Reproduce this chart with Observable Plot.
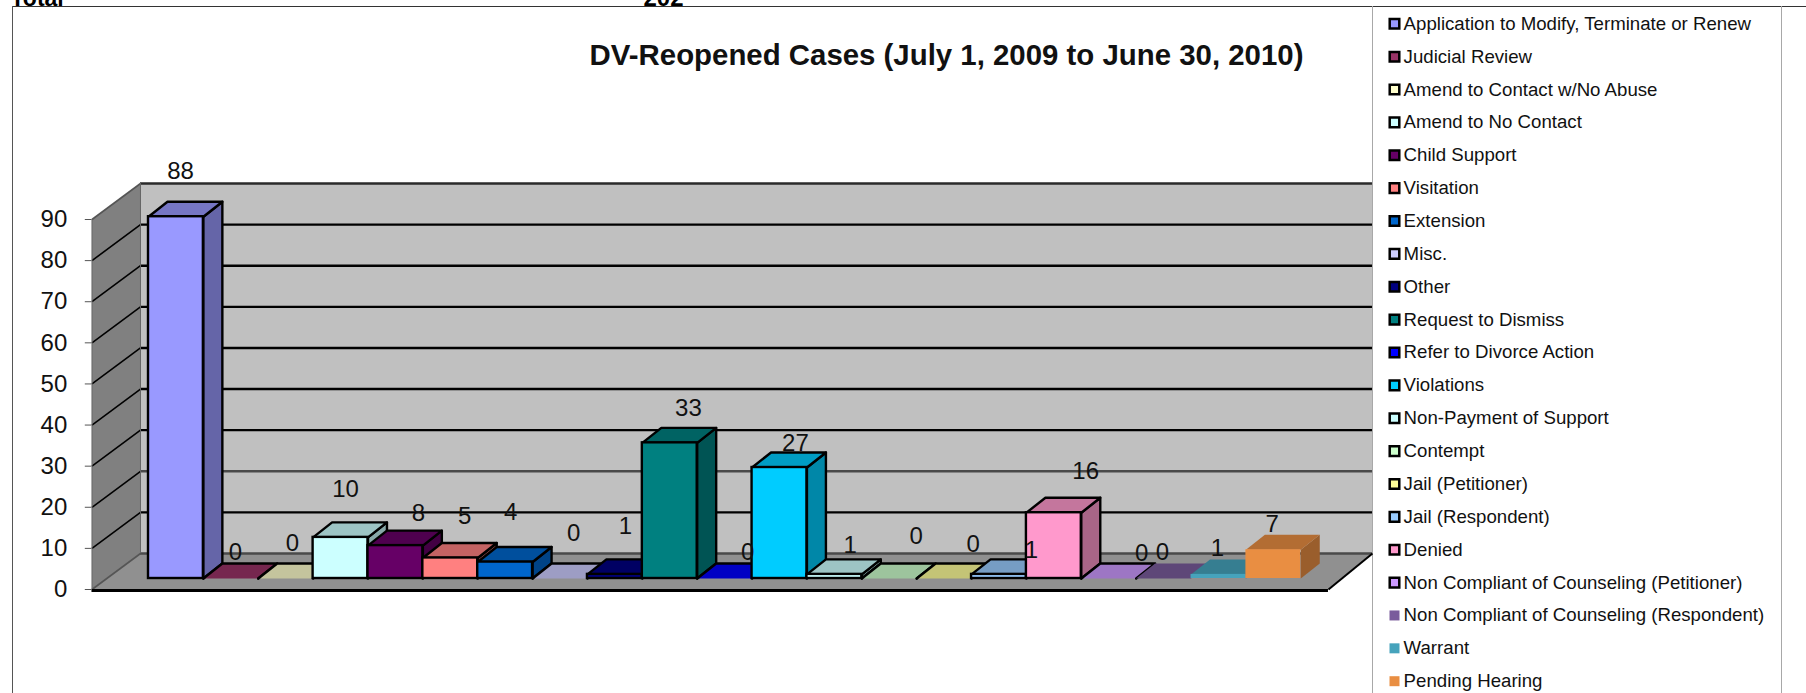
<!DOCTYPE html>
<html>
<head>
<meta charset="utf-8">
<script src="https://cdn.jsdelivr.net/npm/d3@7"></script>
<script src="https://cdn.jsdelivr.net/npm/@observablehq/plot@0.6"></script>
<style>
  html, body { margin: 0; padding: 0; background: #fff; overflow: hidden; }
  #chart { position: relative; width: 1806px; height: 693px; }
  #chart svg { position: absolute; left: 0; top: 0; }
  .ln { position: absolute; }
</style>
</head>
<body>
<div id="chart">
  <div class="ln" style="left:12px;top:6px;width:1794px;height:1px;background:#333"></div>
  <div class="ln" style="left:12px;top:6px;width:1px;height:687px;background:#555"></div>
  <div class="ln" style="left:1371.5px;top:6px;width:1.5px;height:687px;background:#a8a8a8"></div>
  <div class="ln" style="left:1780.5px;top:6px;width:1.5px;height:687px;background:#a8a8a8"></div>
</div>
<script>
const title = "DV-Reopened Cases (July 1, 2009 to June 30, 2010)";
const categories = [
  "Application to Modify, Terminate or Renew", "Judicial Review", "Amend to Contact w/No Abuse",
  "Amend to No Contact", "Child Support", "Visitation", "Extension", "Misc.", "Other",
  "Request to Dismiss", "Refer to Divorce Action", "Violations", "Non-Payment of Support",
  "Contempt", "Jail (Petitioner)", "Jail (Respondent)", "Denied",
  "Non Compliant of Counseling (Petitioner)", "Non Compliant of Counseling (Respondent)",
  "Warrant", "Pending Hearing"
];
const values = [88, 0, 0, 10, 8, 5, 4, 0, 1, 33, 0, 27, 1, 0, 0, 1, 16, 0, 0, 1, 7];
const colors = [
  "#9999FF", "#993366", "#FFFFCC", "#CCFFFF", "#660066", "#FF8080", "#0066CC", "#CCCCFF", "#000080",
  "#008080", "#0000FF", "#00CCFF", "#CCFFFF", "#CCFFCC", "#FFFF99", "#99CCFF", "#FF99CC",
  "#CC99FF", "#7A5C9C", "#46A3BC", "#E98E42"
];
const yTicks = [0, 10, 20, 30, 40, 50, 60, 70, 80, 90];
// hand-placed data labels, in chart units (category index, value)
const labelX = [0.583, 1.586, 2.624, 3.59, 4.92, 5.76, 6.60, 7.75, 8.69, 9.84, 10.92, 11.79, 12.79, 13.99, 15.03, 16.09, 17.08, 18.10, 18.48, 19.48, 20.48];
const labelY = [101.7, 9.0, 11.2, 24.3, 18.5, 17.8, 18.7, 13.6, 15.3, 44.0, 9.0, 35.5, 10.7, 12.9, 10.9, 9.5, 28.7, 8.8, 9.0, 10.0, 15.8];
const outlined = categories.map((c, i) => i < 18);

// 3-D layout, in chart units
const barDepthX = 0.346, barDepthY = 3.65, barLift = -11;
const wallX = -1.03, wallDepthX = 0.884, wallDepthY = 8.757;
const floorFrontRight = 21.505, floorBackRight = 22.307;

const shade = (hex, k) => { const c = d3.rgb(hex); return d3.rgb(c.r * k, c.g * k, c.b * k).formatHex(); };
const rows = categories.map((name, i) => ({ name, i, value: values[i], color: colors[i], stroke: outlined[i] ? "black" : "none" }));

const poly = (id, fill, stroke, pts) => pts.map(([x, y]) => ({ id, fill, stroke, x, y }));
const side = rows.filter(d => d.value > 0).flatMap(d => poly("s" + d.i, shade(d.color, 0.66), d.stroke, [
  [d.i + 1, 0], [d.i + 1 + barDepthX, barDepthY], [d.i + 1 + barDepthX, d.value + barDepthY], [d.i + 1, d.value], [d.i + 1, 0]
]));
const top_ = rows.flatMap(d => {
  const open = [[d.i, d.value], [d.i + barDepthX, d.value + barDepthY], [d.i + 1 + barDepthX, d.value + barDepthY], [d.i + 1, d.value]];
  return poly("t" + d.i, shade(d.color, 0.77), d.stroke, d.value > 0 ? [...open, open[0]] : open);
});

const xw = wallX + wallDepthX;
const sideWall = poly("wall", "#808080", "none", [[wallX, 0], [wallX, 90], [xw, 90 + wallDepthY], [xw, wallDepthY]]);
const floor = poly("floor", "#909090", "none", [[wallX, 0], [xw, wallDepthY], [floorBackRight, wallDepthY], [floorFrontRight, 0]]);

const legendY = i => 23.3 + i * 32.87;
const legendMarks = rows.flatMap((d, i) => [
  Plot.dot([d.name], {
    frameAnchor: "top-left", dx: 1302.5, dy: legendY(i), symbol: "square",
    r: outlined[i] ? 5.4 : 5.64, fill: d.color, stroke: outlined[i] ? "black" : "none", strokeWidth: 2.5
  }),
  Plot.text([d.name], {
    frameAnchor: "top-left", dx: 1311.6, dy: legendY(i), textAnchor: "start", lineAnchor: "middle",
    fontSize: 18.65, fill: "#111"
  })
]);

const polyOpts = { x: "x", y: "y", z: "id", fill: "fill", stroke: "stroke" };

const chart = Plot.plot({
  width: 1806, height: 693,
  marginLeft: 91.5, marginRight: 0, marginTop: 0, marginBottom: 0,
  style: { background: "transparent", fontFamily: "'Liberation Sans', Arial, sans-serif", maxWidth: "none", overflow: "visible" },
  x: { domain: [0, 21], range: [148, 1300.27], axis: null },
  y: { domain: [0, 90], range: [589, 219], axis: null },
  color: { type: "identity" },
  marks: [
    Plot.rect([0], { x1: () => xw, x2: () => floorBackRight, y1: () => wallDepthY, y2: () => 90 + wallDepthY, fill: "#C0C0C0" }),
    Plot.line(sideWall, { ...polyOpts, stroke: null }),
    Plot.line(floor, { ...polyOpts, stroke: null }),
    Plot.ruleY(yTicks, {
      y: d => d + wallDepthY, x1: () => xw, x2: () => floorBackRight,
      stroke: d => (d === 0 || d === 20 ? "#4a4a4a" : d === 90 ? "#2a2a2a" : "#000"), strokeWidth: 2.4
    }),
    Plot.link(yTicks, {
      x1: () => wallX, y1: d => d, x2: () => xw, y2: d => d + wallDepthY,
      stroke: d => (d === 0 ? "#555" : d === 90 ? "#555" : "#000"), strokeWidth: 1.6
    }),
    Plot.ruleY([0], { x1: () => wallX, x2: () => floorFrontRight, stroke: "#000", strokeWidth: 3, dy: 1 }),
    Plot.link([0], { x1: () => floorFrontRight, y1: () => 0, x2: () => floorBackRight, y2: () => wallDepthY, stroke: "#000", strokeWidth: 2 }),
    Plot.ruleX([0], { x: () => xw, y1: () => wallDepthY, y2: () => 90 + wallDepthY, stroke: "#666", strokeWidth: 1 }),
    Plot.ruleX([0], { x: () => wallX, y1: () => 0, y2: () => 90, stroke: "#666", strokeWidth: 1 }),
    Plot.axisY({ ticks: yTicks, tickSize: 6.7, tickPadding: 18, fontSize: 24, label: null, stroke: "#555", fill: "#111", tickFormat: d => d }),
    Plot.line(side, { ...polyOpts, strokeWidth: 2.4, dy: barLift }),
    Plot.line(top_, { ...polyOpts, strokeWidth: 2.4, dy: barLift }),
    Plot.rect(rows.filter(d => d.value > 0), {
      x1: "i", x2: d => d.i + 1, y1: () => 0, y2: "value",
      fill: "color", stroke: "stroke", strokeWidth: 2.4, dy: barLift
    }),
    Plot.text(rows, {
      x: d => labelX[d.i], y: d => labelY[d.i], text: d => String(d.value),
      fontSize: 24, fill: "#111", lineAnchor: "middle"
    }),
    ...legendMarks,
    Plot.text([title], {
      frameAnchor: "top-left", dx: 854.5, dy: 55, textAnchor: "middle", lineAnchor: "middle",
      fontSize: 29.4, fontWeight: "bold", fill: "#111"
    }),
    Plot.text(["Total"], { frameAnchor: "top-left", dx: -81.5, dy: 5, textAnchor: "start", lineAnchor: "bottom", fontSize: 23, fontWeight: "bold", fill: "#000" }),
    Plot.text(["202"], { frameAnchor: "top-left", dx: 551.5, dy: 5, textAnchor: "start", lineAnchor: "bottom", fontSize: 24, fontWeight: "bold", fill: "#000" })
  ]
});
document.getElementById("chart").appendChild(chart);
</script>
</body>
</html>
